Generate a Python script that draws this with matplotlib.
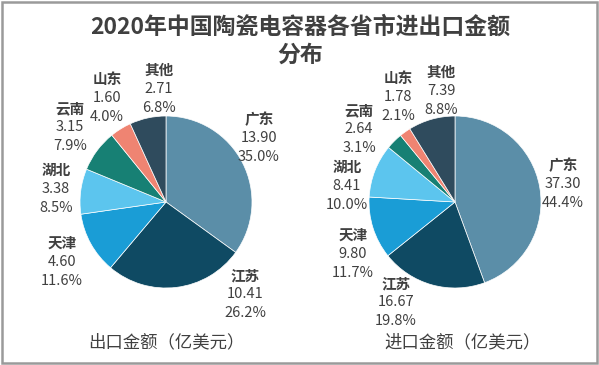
import matplotlib
matplotlib.use("Agg")
import matplotlib.pyplot as plt
from matplotlib.patches import FancyBboxPatch

plt.rcParams['font.family'] = ['Noto Sans CJK SC', 'DejaVu Sans']

# 数据
regions = ["广东", "江苏", "天津", "湖北", "云南", "山东", "其他"]
export_vals = [13.90, 10.41, 4.60, 3.38, 3.15, 1.60, 2.71]
export_pct = ["35.0%", "26.2%", "11.6%", "8.5%", "7.9%", "4.0%", "6.8%"]
import_vals = [37.30, 16.67, 9.80, 8.41, 2.64, 1.78, 7.39]
import_pct = ["44.4%", "19.8%", "11.7%", "10.0%", "3.1%", "2.1%", "8.8%"]

colors = ["#5b8ea8", "#0f4a63", "#1a9dd6", "#5cc5ee", "#178074", "#ef8472", "#2f4b5d"]

W, H = 599, 365
fig = plt.figure(figsize=(W / 100, H / 100), dpi=100)
fig.patch.set_facecolor("white")

# 外框
fig.patches.append(FancyBboxPatch((2 / W, 2 / H), 1 - 4 / W, 1 - 4 / H,
                                  boxstyle="square,pad=0", transform=fig.transFigure,
                                  facecolor="none", edgecolor="#9a9a9a", linewidth=1.8))

def px(x, y):
    return x / W, 1 - y / H

fig.text(*px(300, 27), "2020年中国陶瓷电容器各省市进出口金额", ha="center", va="center",
         fontsize=16.5, fontweight="bold", color="#404040")
fig.text(*px(300, 55), "分布", ha="center", va="center",
         fontsize=16.5, fontweight="bold", color="#404040")

# 标签位置 (像素)
export_label_pos = [(259, 119), (245, 275), (62, 243), (56, 170), (70, 108), (107, 79), (159, 70)]
import_label_pos = [(563, 165), (396, 283), (353, 235), (347, 167), (359, 110), (398, 78), (441, 72)]

def draw_pie(cx, cy, r, vals, pcts, label_pos, subtitle, sub_x):
    ax = fig.add_axes([(cx - r) / W, 1 - (cy + r) / H, 2 * r / W, 2 * r / H])
    ax.pie(vals, colors=colors, startangle=90, counterclock=False, radius=1,
           wedgeprops=dict(edgecolor="white", linewidth=0.5))
    ax.set_xlim(-1, 1)
    ax.set_ylim(-1, 1)
    ax.set_aspect("equal")
    ax.axis("off")
    for name, v, p, (x, y) in zip(regions, vals, pcts, label_pos):
        fig.text(*px(x, y), name, ha="center", va="center", fontsize=10.5,
                 fontweight="bold", color="#404040")
        fig.text(*px(x, y + 19), f"{v:.2f}", ha="center", va="center", fontsize=10.5,
                 color="#404040")
        fig.text(*px(x, y + 38), p, ha="center", va="center", fontsize=10.5,
                 color="#404040")
    fig.text(*px(sub_x, 342), subtitle, ha="center", va="center", fontsize=12.5,
             color="#404040")

draw_pie(166, 202, 86, export_vals, export_pct, export_label_pos, "出口金额（亿美元）", 166)
draw_pie(455, 202, 86, import_vals, import_pct, import_label_pos, "进口金额（亿美元）", 463)

fig.savefig("out.png", dpi=100)
